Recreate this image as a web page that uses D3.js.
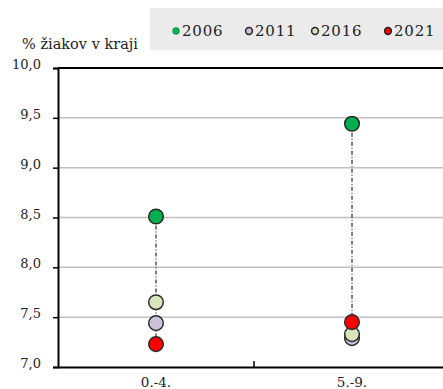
<!DOCTYPE html>
<html><head><meta charset="utf-8">
<script src="https://cdn.jsdelivr.net/npm/d3@7"></script>
<style>
html,body{margin:0;padding:0;background:#fff;overflow:hidden}
svg text{font-family:"DejaVu Serif",serif !important;fill:#222}
</style></head>
<body><svg id="c" width="443" height="389"></svg>
<script>
const categories = ["0.-4.", "5.-9."];
const years = ["2006", "2011", "2016", "2021"];
const colors = ["#00b050", "#ccc0da", "#d8e4bc", "#ff0000"];
const v2006 = [8.51, 9.44];
const v2011 = [7.44, 7.29];
const v2016 = [7.65, 7.33];
const v2021 = [7.23, 7.45];
const series = [v2006, v2011, v2016, v2021];
const yTicks = [7.0, 7.5, 8.0, 8.5, 9.0, 9.5, 10.0];

const svg = d3.select("#c");
const mL = 58, mT = 68, mB = 367, mR = 450;
const x = d3.scaleBand().domain(categories).range([mL, mR]);
const y = d3.scaleLinear().domain([7, 10]).range([mB, mT]);
const fmt = d => d.toFixed(1).replace(".", ",");

// gridlines
svg.append("g").selectAll("line").data(yTicks.filter(t => t > 7 && t < 10)).join("line")
  .attr("x1", mL).attr("x2", 443).attr("y1", d => y(d)).attr("y2", d => y(d))
  .attr("stroke", "#c0c0c0").attr("stroke-width", 1.5);

// y axis
const ya = svg.append("g").attr("transform", `translate(${mL},0)`)
  .call(d3.axisLeft(y).tickValues(yTicks).tickFormat(fmt).tickSize(5));
ya.select(".domain").attr("stroke", "#000").attr("stroke-width", 2);
ya.selectAll(".tick line").attr("stroke", "#000").attr("stroke-width", 1.5);
ya.selectAll("text").attr("font-size", 13).attr("x", -17).attr("dy", "0.05em").attr("fill", "#222");

// top border
svg.append("line").attr("x1", mL).attr("x2", 443).attr("y1", mT).attr("y2", mT)
  .attr("stroke", "#000").attr("stroke-width", 2);

// x axis
const xa = svg.append("g").attr("transform", `translate(0,${mB})`)
  .call(d3.axisBottom(x).tickSize(0).tickPadding(10));
xa.select(".domain").attr("stroke", "#000").attr("stroke-width", 2);
xa.selectAll("text").attr("font-size", 13.5).attr("fill", "#222");
// separator ticks between categories
svg.append("g").selectAll("line").data(categories.slice(1)).join("line")
  .attr("x1", d => x(d)).attr("x2", d => x(d)).attr("y1", mB).attr("y2", mB - 6)
  .attr("stroke", "#000").attr("stroke-width", 1.5);

// drop lines
categories.forEach((c, i) => {
  const vals = series.map(s => s[i]);
  const cx = x(c) + x.bandwidth() / 2;
  svg.append("line").attr("x1", cx).attr("x2", cx)
    .attr("y1", y(d3.max(vals))).attr("y2", y(d3.min(vals)))
    .attr("stroke", "#000").attr("stroke-width", 1).attr("stroke-dasharray", "4,2,1,2");
});

// points
series.forEach((s, k) => {
  svg.append("g").selectAll("circle").data(s).join("circle")
    .attr("cx", (d, i) => x(categories[i]) + x.bandwidth() / 2)
    .attr("cy", d => y(d)).attr("r", 7.3)
    .attr("fill", colors[k]).attr("stroke", "#2a2a2a").attr("stroke-width", 1.5);
});

// y title
svg.append("text").attr("x", 22).attr("y", 49).attr("font-size", 14.5).text("% žiakov v kraji");

// legend
svg.append("rect").attr("x", 150).attr("y", 8).attr("width", 293).attr("height", 42).attr("fill", "#ebebeb");
const legX = [176, 249, 315, 388];
years.forEach((yr, k) => {
  svg.append("circle").attr("cx", legX[k]).attr("cy", 31).attr("r", 3.4)
    .attr("fill", colors[k]).attr("stroke", k === 0 ? "#0a8a3a" : "#222").attr("stroke-width", k === 0 ? 0.6 : 1.5);
  svg.append("text").attr("x", legX[k] + 6).attr("y", 36).attr("font-size", 15)
    .attr("letter-spacing", 0.8).text(yr);
});
</script></body></html>
